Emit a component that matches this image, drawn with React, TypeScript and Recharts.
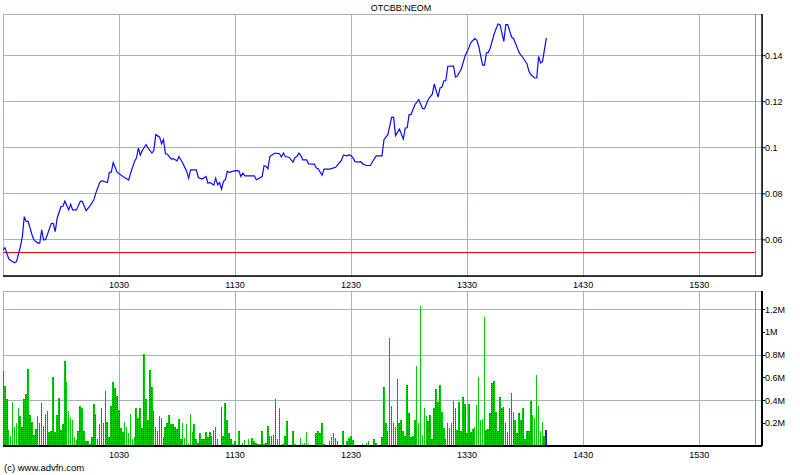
import {
  Bar,
  CartesianGrid,
  Cell,
  ComposedChart,
  Line,
  ReferenceLine,
  XAxis,
  YAxis,
} from "recharts";

// minutes after the 09:30 open
const priceMinutes = [
  0, 1, 3, 4, 6, 7, 9, 10, 11, 12, 13, 15, 16, 18, 19, 20, 21, 22, 25, 26,
  27, 28, 30, 31, 32, 34, 35, 36, 38, 40, 41, 43, 45, 47, 48, 50, 51, 54, 55, 56,
  57, 59, 62, 65, 66, 68, 69, 70, 71, 72, 74, 75, 77, 78, 79, 81, 82, 83, 84, 85,
  86, 87, 88, 90, 91, 93, 95, 96, 97, 100, 101, 103, 105, 106, 107, 109, 110, 111, 112, 113,
  114, 115, 116, 117, 120, 122, 123, 124, 125, 130, 131, 132, 134, 135, 136, 137, 138, 140, 141, 143,
  144, 145, 146, 148, 150, 151, 152, 153, 154, 155, 157, 158, 161, 162, 163, 165, 166, 169, 172, 173,
  175, 176, 178, 179, 180, 181, 182, 184, 185, 186, 188, 190, 191, 193, 196, 197, 199, 201, 202, 203,
  205, 207, 208, 209, 210, 211, 213, 215, 217, 218, 220, 222, 223, 225, 226, 227, 228, 229, 230, 231,
  233, 234, 235, 237, 239, 241, 242, 244, 245, 246, 248, 249, 250, 251, 252, 254, 256, 257, 259, 260,
  261, 263, 264, 267, 269, 271, 272, 273, 275, 276, 277, 278, 279, 281,
];

const prices = [
  0.0557, 0.0565, 0.0517, 0.051, 0.05, 0.0506, 0.0571, 0.0614, 0.0701, 0.068, 0.068, 0.0622, 0.06, 0.0586, 0.0586, 0.0643, 0.06, 0.0601, 0.0672, 0.0671,
  0.0636, 0.0694, 0.0745, 0.0746, 0.0768, 0.073, 0.0754, 0.073, 0.073, 0.0768, 0.0767, 0.0727, 0.0748, 0.0774, 0.0803, 0.0849, 0.0857, 0.0849, 0.0893, 0.0894,
  0.0936, 0.0894, 0.0875, 0.086, 0.089, 0.094, 0.0955, 0.0999, 0.0968, 0.0988, 0.1014, 0.0999, 0.0977, 0.0988, 0.1057, 0.1046, 0.1017, 0.1035, 0.0974, 0.0972,
  0.0962, 0.0951, 0.0953, 0.0943, 0.0962, 0.0933, 0.0897, 0.0868, 0.0904, 0.0904, 0.0871, 0.0864, 0.0875, 0.0846, 0.0849, 0.0838, 0.0868, 0.0839, 0.0849, 0.082,
  0.0854, 0.0861, 0.0897, 0.0893, 0.0901, 0.09, 0.0875, 0.089, 0.0878, 0.0878, 0.0861, 0.0865, 0.0875, 0.0922, 0.092, 0.0909, 0.0962, 0.0974, 0.0977, 0.0974,
  0.096, 0.0977, 0.0962, 0.0958, 0.0938, 0.0958, 0.0962, 0.0977, 0.0966, 0.0947, 0.0947, 0.093, 0.0929, 0.0912, 0.0909, 0.088, 0.0907, 0.0907, 0.0915, 0.0926,
  0.0945, 0.0968, 0.0965, 0.097, 0.0965, 0.0956, 0.094, 0.0938, 0.094, 0.093, 0.0923, 0.0923, 0.0938, 0.0965, 0.0965, 0.1035, 0.1057, 0.1133, 0.1132, 0.1053,
  0.1081, 0.1038, 0.1086, 0.1087, 0.1143, 0.1145, 0.1187, 0.1209, 0.117, 0.117, 0.1212, 0.1233, 0.1277, 0.122, 0.126, 0.1264, 0.1291, 0.1291, 0.1353, 0.1355,
  0.1355, 0.1307, 0.1312, 0.1342, 0.14, 0.1436, 0.1458, 0.1474, 0.1468, 0.1441, 0.1359, 0.1359, 0.1412, 0.1414, 0.1434, 0.1495, 0.1538, 0.1535, 0.1462, 0.1535,
  0.1535, 0.1481, 0.1475, 0.1412, 0.139, 0.1364, 0.1332, 0.1317, 0.1303, 0.1303, 0.1397, 0.1368, 0.1375, 0.1477,
];

// volume per minute, millions of shares (index = minute after open)
const volumes = [
  0.66, 0.53, 0.41, 0.14, 0.09, 0.39, 0.17, 0.2, 0.33, 0.26,
  0.17, 0.41, 0.46, 0.68, 0.27, 0.21, 0.1, 0.15, 0.26, 0.2,
  0.38, 0.18, 0.28, 0.31, 0.12, 0.13, 0.61, 0.12, 0.27, 0.42,
  0.14, 0.19, 0.75, 0.56, 0.31, 0.25, 0.23, 0.08, 0.05, 0.13,
  0.35, 0.33, 0.13, 0.04, 0.04, 0.02, 0.08, 0.37, 0.28, 0.06,
  0.19, 0.33, 0.2, 0.48, 0.21, 0.08, 0.35, 0.56, 0.51, 0.44,
  0.32, 0.16, 0.12, 0.21, 0.17, 0.11, 0.28, 0.06, 0.08, 0.33,
  0.25, 0.33, 0.16, 0.81, 0.41, 0.23, 0.67, 0.52, 0.31, 0.17,
  0.13, 0.26, 0.25, 0.08, 0.17, 0.2, 0.27, 0.19, 0.19, 0.17,
  0.15, 0.24, 0.06, 0.2, 0.07, 0.19, 0.03, 0.28, 0.12, 0.19,
  0.06, 0.03, 0.11, 0.06, 0.06, 0.12, 0.08, 0.12, 0.09, 0.14,
  0.17, 0.06, 0, 0.34, 0.09, 0.38, 0.23, 0.11, 0.06, 0.02,
  0.04, 0, 0.13, 0.01, 0.03, 0.05, 0.01, 0.06, 0.01, 0.07,
  0.04, 0.03, 0.02, 0.02, 0.13, 0.02, 0.03, 0.18, 0.09, 0.09,
  0.1, 0.41, 0.06, 0.33, 0, 0.02, 0.09, 0.22, 0, 0,
  0.13, 0.02, 0, 0.01, 0.07, 0.02, 0.03, 0.12, 0.02, 0,
  0, 0, 0.11, 0.13, 0.11, 0.2, 0.02, 0.01, 0, 0.04,
  0.08, 0.11, 0.07, 0.04, 0, 0, 0.13, 0, 0.04, 0.07,
  0.09, 0.05, 0, 0, 0, 0, 0.02, 0, 0.03, 0.04,
  0, 0, 0.06, 0.03, 0, 0, 0.08, 0.52, 0.2, 0.13,
  0.95, 0.35, 0.2, 0.17, 0.59, 0.2, 0.23, 0.13, 0.09, 0.54,
  0.29, 0.08, 0.09, 0.23, 0.7, 0.2, 1.23, 0.1, 0.33, 0.26,
  0.22, 0.27, 0.06, 0.33, 0.5, 0.39, 0.54, 0.3, 0.16, 0.06,
  0.2, 0.16, 0.2, 0.4, 0.33, 0.14, 0.39, 0.13, 0.43, 0.37,
  0.11, 0.37, 0.12, 0.15, 0.17, 0.36, 0.61, 0.23, 0.24, 1.13,
  0.14, 0.15, 0.29, 0.55, 0.57, 0.3, 0.13, 0.43, 0.33, 0.34,
  0.2, 0.12, 0.33, 0.47, 0.3, 0.23, 0.11, 0.29, 0.23, 0.33,
  0.06, 0.13, 0.13, 0.4, 0.27, 0.25, 0.62, 0.35, 0.13, 0.21,
  0.09, 0.14,
];

const hourTicks = [60, 120, 180, 240, 300, 360];
const hourLabels = ["1030", "1130", "1230", "1330", "1430", "1530"];
const priceTicks = [0.06, 0.08, 0.1, 0.12, 0.14];
const priceMinorTicks = [0.05, 0.07, 0.09, 0.11, 0.13, 0.15];
const volTicks = [0.2, 0.4, 0.6, 0.8, 1, 1.2];
const volMinorTicks = [0.1, 0.3, 0.5, 0.7, 0.9, 1.1, 1.3];
const prevClose = 0.0546;
const closeMinute = 389;
const symbol = "OTCBB:NEOM";
const credit = "(c) www.advfn.com";

const X_DOMAIN: [number, number] = [0, 392.5];
const P_DOMAIN: [number, number] = [0.0443, 0.1581];
const V_DOMAIN: [number, number] = [0, 1.363];

const FONT = "'Liberation Sans', Arial, sans-serif";
const tickStyle = { fontSize: 9, fill: "#000", fontFamily: FONT };
const frame = { stroke: "#000", strokeWidth: 1.5 };
const gridColor = "#a9b5b5";

const hourLabel = (v: number) => hourLabels[hourTicks.indexOf(v)] ?? "";

export default function App() {
  const priceData = priceMinutes.map((m, i) => ({ m, p: prices[i] }));
  const volumeData = volumes.map((v, i) => ({ m: i, v }));

  return (
    <div
      style={{
        position: "absolute",
        left: 0,
        top: 0,
        width: 800,
        height: 475,
        background: "#fff",
        fontFamily: FONT,
      }}
    >
      <div
        style={{
          position: "absolute",
          top: 3,
          left: 0,
          width: 802,
          textAlign: "center",
          fontSize: 9,
          color: "#000",
        }}
      >
        {symbol}
      </div>

      {/* price panel */}
      <div style={{ position: "absolute", top: 0, left: 0 }}>
        <ComposedChart
          width={800}
          height={290}
          data={priceData}
          margin={{ top: 14, right: 0, left: 3, bottom: 0 }}
        >
          <CartesianGrid stroke={gridColor} shapeRendering="crispEdges" />
          <XAxis
            dataKey="m"
            type="number"
            domain={X_DOMAIN}
            ticks={hourTicks}
            tickFormatter={hourLabel}
            allowDataOverflow
            height={14}
            tickSize={4}
            tickLine={false}
            axisLine={frame}
            tick={tickStyle}
          />
          <XAxis
            xAxisId="top"
            orientation="top"
            type="number"
            domain={X_DOMAIN}
            height={0}
            tick={false}
            tickLine={false}
            axisLine={frame}
          />
          <YAxis
            orientation="right"
            type="number"
            domain={P_DOMAIN}
            ticks={priceTicks}
            allowDataOverflow
            width={38}
            tickSize={3}
            tickMargin={0}
            axisLine={frame}
            tickLine={{ stroke: "#000" }}
            tick={tickStyle}
          />
          <YAxis
            yAxisId="minorR"
            orientation="right"
            mirror
            type="number"
            domain={P_DOMAIN}
            ticks={priceMinorTicks}
            width={0}
            tickSize={3}
            tick={false}
            axisLine={false}
            tickLine={{ stroke: "#000" }}
          />
          <YAxis
            yAxisId="left"
            orientation="left"
            mirror
            type="number"
            domain={P_DOMAIN}
            ticks={priceMinorTicks}
            width={0}
            tickSize={3}
            tick={false}
            axisLine={frame}
            tickLine={{ stroke: "#000" }}
          />
          <ReferenceLine x={closeMinute} stroke="#8a9494" shapeRendering="crispEdges" />
          <ReferenceLine
            segment={[
              { x: 0, y: prevClose },
              { x: closeMinute, y: prevClose },
            ]}
            stroke="#ff0000"
            strokeWidth={1}
            shapeRendering="crispEdges"
          />
          <Line
            type="linear"
            dataKey="p"
            stroke="#0a0aff"
            strokeWidth={1.2}
            dot={false}
            activeDot={false}
            isAnimationActive={false}
          />
        </ComposedChart>
      </div>

      {/* volume panel */}
      <div
        style={{
          position: "absolute",
          top: 285,
          left: 0,
          shapeRendering: "crispEdges",
        }}
      >
        <ComposedChart
          width={800}
          height={190}
          data={volumeData}
          margin={{ top: 6, right: 0, left: 3, bottom: 15 }}
        >
          <defs>
            <pattern
              id="volFill"
              width={2}
              height={2}
              patternUnits="userSpaceOnUse"
            >
              <rect x={0} y={0} width={2} height={2} fill="#00cc00" />
              <rect x={1} y={0} width={1} height={1} fill="#3a5a3a" />
            </pattern>
          </defs>
          <CartesianGrid stroke={gridColor} />
          <XAxis
            dataKey="m"
            type="number"
            domain={X_DOMAIN}
            ticks={hourTicks}
            tickFormatter={hourLabel}
            allowDataOverflow
            height={14}
            tickSize={4}
            tickLine={false}
            axisLine={frame}
            tick={tickStyle}
          />
          <XAxis
            xAxisId="top"
            orientation="top"
            type="number"
            domain={X_DOMAIN}
            height={0}
            tick={false}
            tickLine={false}
            axisLine={frame}
          />
          <YAxis
            orientation="right"
            type="number"
            domain={V_DOMAIN}
            ticks={volTicks}
            tickFormatter={(v: number) => `${v}M`}
            allowDataOverflow
            width={38}
            tickSize={3}
            tickMargin={0}
            axisLine={frame}
            tickLine={{ stroke: "#000" }}
            tick={tickStyle}
          />
          <YAxis
            yAxisId="minorR"
            orientation="right"
            mirror
            type="number"
            domain={V_DOMAIN}
            ticks={volMinorTicks}
            width={0}
            tickSize={3}
            tick={false}
            axisLine={false}
            tickLine={{ stroke: "#000" }}
          />
          <YAxis
            yAxisId="left"
            orientation="left"
            mirror
            type="number"
            domain={V_DOMAIN}
            ticks={volMinorTicks}
            width={0}
            tickSize={3}
            tick={false}
            axisLine={frame}
            tickLine={{ stroke: "#000" }}
          />
          <ReferenceLine x={closeMinute} stroke="#8a9494" />
          <Bar dataKey="v" barSize={1.6} fill="url(#volFill)" isAnimationActive={false}>
            {volumeData.map((_, i) => (
              <Cell
                key={i}
                fill={i === volumeData.length - 1 ? "#2222cc" : "url(#volFill)"}
              />
            ))}
          </Bar>
        </ComposedChart>
      </div>

      <div
        style={{
          position: "absolute",
          left: 4,
          top: 462,
          fontSize: 9.5,
          color: "#000",
        }}
      >
        {credit}
      </div>
    </div>
  );
}
